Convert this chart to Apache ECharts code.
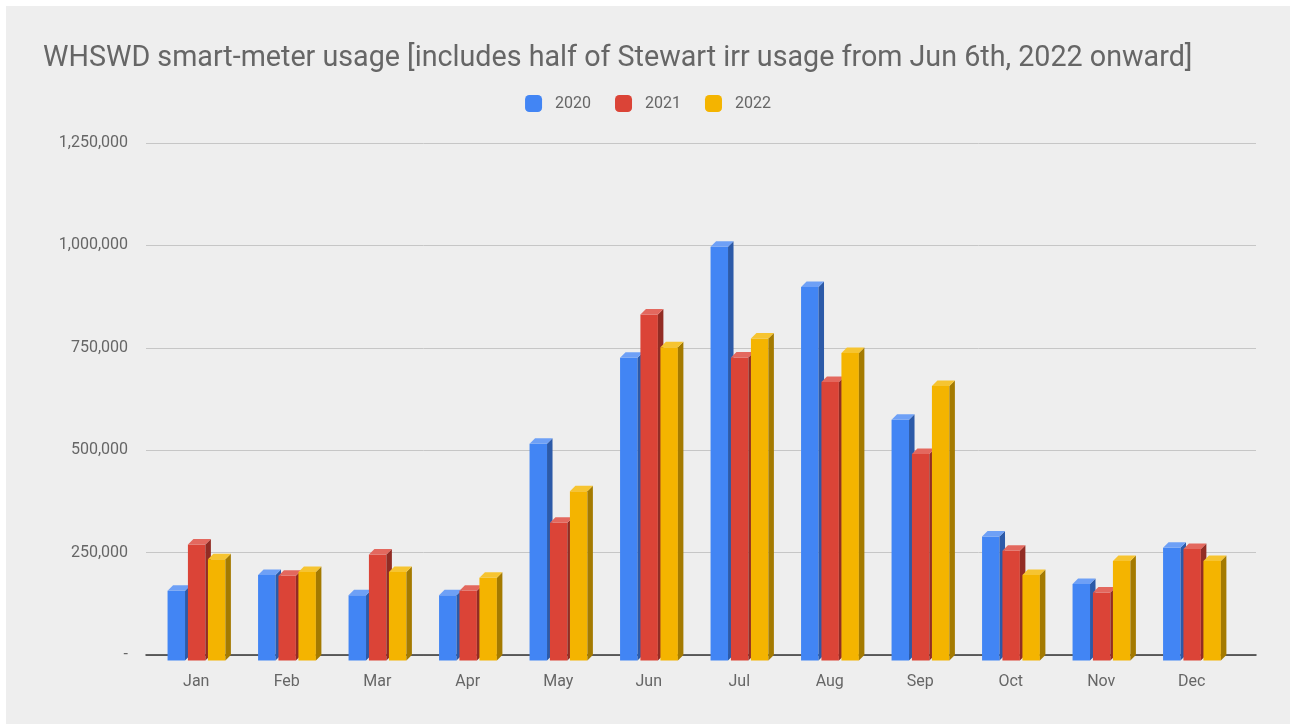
<!DOCTYPE html>
<html>
<head>
<meta charset="utf-8">
<script src="https://cdn.jsdelivr.net/npm/echarts@6/dist/echarts.min.js"></script>
<style>
  html, body { margin: 0; padding: 0; background: #fff; }
  #main { position: absolute; left: 6px; top: 6px; width: 1284px; height: 718px; }
</style>
</head>
<body>
<div id="main"></div>
<script>
var months = ['Jan', 'Feb', 'Mar', 'Apr', 'May', 'Jun', 'Jul', 'Aug', 'Sep', 'Oct', 'Nov', 'Dec'];
var usage2020 = [170000, 209000, 159000, 159000, 529000, 739000, 1010000, 912000, 588000, 303000, 187000, 275000];
var usage2021 = [283000, 207000, 259000, 170000, 336000, 845000, 740000, 680000, 504000, 268000, 166000, 272000];
var usage2022 = [247000, 216000, 216000, 202000, 413000, 765000, 786000, 751000, 670000, 209000, 243000, 243000];
var yTicks = ['-', '250,000', '500,000', '750,000', '1,000,000', '1,250,000'];

var chart = echarts.init(document.getElementById('main'));

// colours: front, side, top
var palette = [
  ['#4285f4', '#2c5aa8', '#6ea0f6'],
  ['#db4437', '#922c24', '#e3685e'],
  ['#f4b400', '#a47a00', '#f6c431']
];
var offsets = [-0.317, -0.092, 0.129];
var depth = 5.5;

function bar3d(idx) {
  return function (params, api) {
    var i = api.value(0);
    var top = api.coord([i, api.value(1)]);
    var base = api.coord([i, 0]);
    var band = api.size([1, 0])[0];
    var w = band * 0.193;
    var x = top[0] + band * offsets[idx];
    var yt = top[1] + depth;
    var yb = base[1] + depth;
    var c = palette[idx];
    return {
      type: 'group',
      children: [
        { type: 'rect', shape: { x: x, y: yt, width: w, height: yb - yt }, style: { fill: c[0] } },
        { type: 'polygon', shape: { points: [[x + w, yt], [x + w + depth, yt - depth], [x + w + depth, yb - depth], [x + w, yb]] }, style: { fill: c[1] } },
        { type: 'polygon', shape: { points: [[x, yt], [x + w, yt], [x + w + depth, yt - depth], [x + depth, yt - depth]] }, style: { fill: c[2] } }
      ]
    };
  };
}

function makeData(arr) {
  return arr.map(function (v, i) { return [i, v]; });
}

function makeSeries(name, idx, arr) {
  return {
    name: name, type: 'custom', renderItem: bar3d(idx), data: makeData(arr),
    xAxisIndex: 1, yAxisIndex: 1,
    itemStyle: { color: palette[idx][0] }, encode: { x: 0, y: 1 }
  };
}

chart.setOption({
  backgroundColor: '#eeeeee',
  textStyle: { fontFamily: 'Roboto' },
  title: {
    text: 'WHSWD smart-meter usage [includes half of Stewart irr usage from Jun 6th, 2022 onward]',
    left: 37,
    top: 38,
    padding: 0,
    textStyle: { fontSize: 28.7, fontWeight: 'normal', color: '#666666', fontFamily: 'Roboto' }
  },
  legend: {
    top: 84,
    left: 'center',
    itemWidth: 17,
    itemHeight: 17,
    itemGap: 24,
    icon: 'roundRect',
    textStyle: { fontSize: 16, color: '#666666', padding: [0, 0, 0, 8] },
    data: [
      { name: '2020', itemStyle: { color: palette[0][0] } },
      { name: '2021', itemStyle: { color: palette[1][0] } },
      { name: '2022', itemStyle: { color: palette[2][0] } }
    ]
  },
  grid: [
    { left: 140, right: 34, top: 137, bottom: 69 },
    { left: 145, right: 53, top: 137, bottom: 69 }
  ],
  xAxis: [
    {
      gridIndex: 0, type: 'value', min: 0, max: 1,
      axisLine: { show: true, onZero: false, lineStyle: { color: '#333333', width: 1.5 } },
      axisTick: { show: false }, axisLabel: { show: false }, splitLine: { show: false }
    },
    {
      gridIndex: 1, type: 'category', data: months,
      axisLine: { show: false },
      axisTick: { show: false },
      axisLabel: { color: '#666666', fontSize: 16, margin: 19 }
    }
  ],
  yAxis: [
    {
      gridIndex: 0, type: 'value', min: 0, max: 1250000, interval: 250000,
      axisLine: { show: false },
      axisTick: { show: false },
      splitLine: { lineStyle: { color: '#c6c6c6', width: 1 } },
      axisLabel: {
        color: '#666666', fontSize: 16, margin: 18,
        formatter: function (v) { return yTicks[Math.round(v / 250000)]; }
      }
    },
    {
      gridIndex: 1, type: 'value', min: 0, max: 1250000, interval: 250000,
      show: false
    }
  ],
  series: [
    makeSeries('2020', 0, usage2020),
    makeSeries('2021', 1, usage2021),
    makeSeries('2022', 2, usage2022)
  ]
});
</script>
</body>
</html>
